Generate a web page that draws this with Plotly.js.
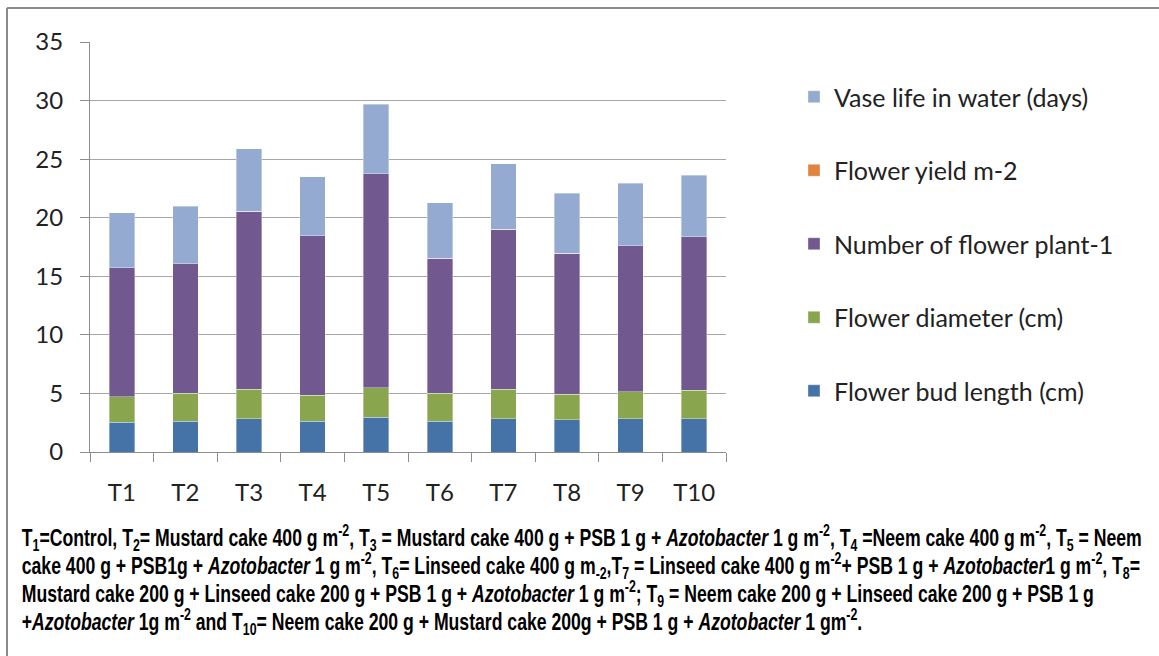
<!DOCTYPE html>
<html>
<head>
<meta charset="utf-8">
<script src="https://cdn.plot.ly/plotly-3.0.1.min.js"></script>
<style>
html,body{margin:0;padding:0;background:#fff;}
#chart{width:1159px;height:656px;}
</style>
</head>
<body>
<div id="chart"></div>
<script>
const categories = ["T1","T2","T3","T4","T5","T6","T7","T8","T9","T10"];
const budLength = [2.53, 2.61, 2.84, 2.61, 2.98, 2.64, 2.84, 2.75, 2.84, 2.84];
const flowerDiameter = [2.18, 2.39, 2.53, 2.22, 2.49, 2.36, 2.53, 2.16, 2.30, 2.42];
const flowersPerPlant = [11.02, 11.07, 15.18, 13.63, 18.27, 11.52, 13.65, 12.04, 12.47, 13.11];
const flowerYield = [0, 0, 0, 0, 0, 0, 0, 0, 0, 0];
const vaseLife = [4.71, 4.91, 5.34, 5.05, 5.96, 4.77, 5.57, 5.14, 5.33, 5.25];
const yTicks = [0, 5, 10, 15, 20, 25, 30, 35];

const seriesNames = ["Flower bud length (cm)", "Flower diameter (cm)", "Number of flower plant-1", "Flower yield m-2", "Vase life in water (days)"];
const seriesValues = [budLength, flowerDiameter, flowersPerPlant, flowerYield, vaseLife];
const seriesColors = ["#4572A7", "#89A54E", "#71588F", "#E0843F", "#94AAD0"];

const traces = seriesNames.map((n, i) => ({
  type: "bar",
  name: n,
  x: categories,
  y: seriesValues[i],
  legendgroup: "g" + i,
  legendrank: seriesNames.length - i,
  marker: {color: seriesColors[i], line: {color: "rgba(255,255,255,0.6)", width: 0.6}},
  hoverinfo: "x+y+name"
}));

const captionLines = [
  "T<sub>1</sub>=Control, T<sub>2</sub>= Mustard cake 400 g m<sup>-2</sup>, T<sub>3</sub> = Mustard cake 400 g + PSB 1 g + <i>Azotobacter</i> 1 g m<sup>-2</sup>, T<sub>4</sub> =Neem cake 400 g m<sup>-2</sup>, T<sub>5</sub> = Neem",
  "cake 400 g + PSB1g + <i>Azotobacter</i> 1 g m<sup>-2</sup>, T<sub>6</sub>= Linseed cake 400 g m<sub>-2</sub>,T<sub>7</sub> = Linseed cake 400 g m<sup>-2</sup>+ PSB 1 g + <i>Azotobacter</i>1 g m<sup>-2</sup>, T<sub>8</sub>=",
  "Mustard cake 200 g + Linseed cake 200 g + PSB 1 g + <i>Azotobacter</i> 1 g m<sup>-2</sup>; T<sub>9</sub> = Neem cake 200 g + Linseed cake 200 g + PSB 1 g",
  "+<i>Azotobacter</i> 1g m<sup>-2</sup> and T<sub>10</sub>= Neem cake 200 g + Mustard cake 200g + PSB 1 g + <i>Azotobacter</i> 1 gm<sup>-2</sup>."
];

const L = 90, R = 726, T = 42, B = 452;
const W = R - L, H = B - T;
const px = x => (x - L) / W;
const py = y => (B - y) / H;

const captionLeft = 20;
const captionY = [538, 566, 594, 622];
const annotations = captionLines.map((t, i) => ({
  text: t,
  xref: "paper", yref: "paper",
  x: px(captionLeft), y: py(captionY[i]),
  xanchor: "left", yanchor: "middle",
  showarrow: false,
  font: {family: "Liberation Sans, Arial, sans-serif", size: 24, color: "#000", weight: 700}
}));

const tickFont = {family: "Lato, Carlito, sans-serif", size: 24, color: "#222"};

const layout = {
  width: 1159, height: 656,
  margin: {l: L, r: 1159 - R, t: T, b: 656 - B},
  paper_bgcolor: "#fff",
  plot_bgcolor: "#fff",
  barmode: "stack",
  bargap: 0.6,
  showlegend: true,
  legend: {
    x: px(794), y: py(74), xanchor: "left", yanchor: "top",
    traceorder: "grouped",
    tracegroupgap: 38,
    font: {family: "Lato, Carlito, sans-serif", size: 25, color: "#222"},
    itemwidth: 30
  },
  xaxis: {
    type: "category",
    showline: true, linecolor: "#8c8c8c", linewidth: 1,
    ticks: "outside", tickson: "boundaries", ticklen: 9, tickcolor: "#8c8c8c",
    ticklabelstandoff: 19,
    tickfont: tickFont,
    showgrid: false
  },
  yaxis: {
    range: [0, 35],
    tickvals: yTicks,
    showline: true, linecolor: "#8c8c8c", linewidth: 1,
    ticks: "outside", ticklen: 9, tickcolor: "#8c8c8c",
    ticklabelstandoff: 12,
    tickfont: tickFont,
    showgrid: true, gridcolor: "#a6a6a6", gridwidth: 1,
    zeroline: false
  },
  shapes: [
    {type: "line", xref: "paper", yref: "paper", x0: px(7), x1: px(1160), y0: py(8), y1: py(8), line: {color: "#8a8a8a", width: 2}},
    {type: "line", xref: "paper", yref: "paper", x0: px(7), x1: px(7), y0: py(8), y1: py(660), line: {color: "#8a8a8a", width: 2}}
  ],
  annotations: annotations
};

Plotly.newPlot("chart", traces, layout, {displayModeBar: false, staticPlot: true}).then(gd => {
  // Condense the caption text horizontally (the original uses a narrow bold face)
  const groups = gd.querySelectorAll(".annotation .annotation-text-g");
  if (!groups.length) return;
  const first = groups[0].getBBox();
  const targetWidth = 1143 - captionLeft;
  const s = targetWidth / first.width;
  groups.forEach(g => {
    const prev = g.getAttribute("transform") || "";
    g.setAttribute("transform", `translate(${captionLeft},0) scale(${s},1) translate(${-captionLeft},0) ` + prev);
  });
});
</script>
</body>
</html>
